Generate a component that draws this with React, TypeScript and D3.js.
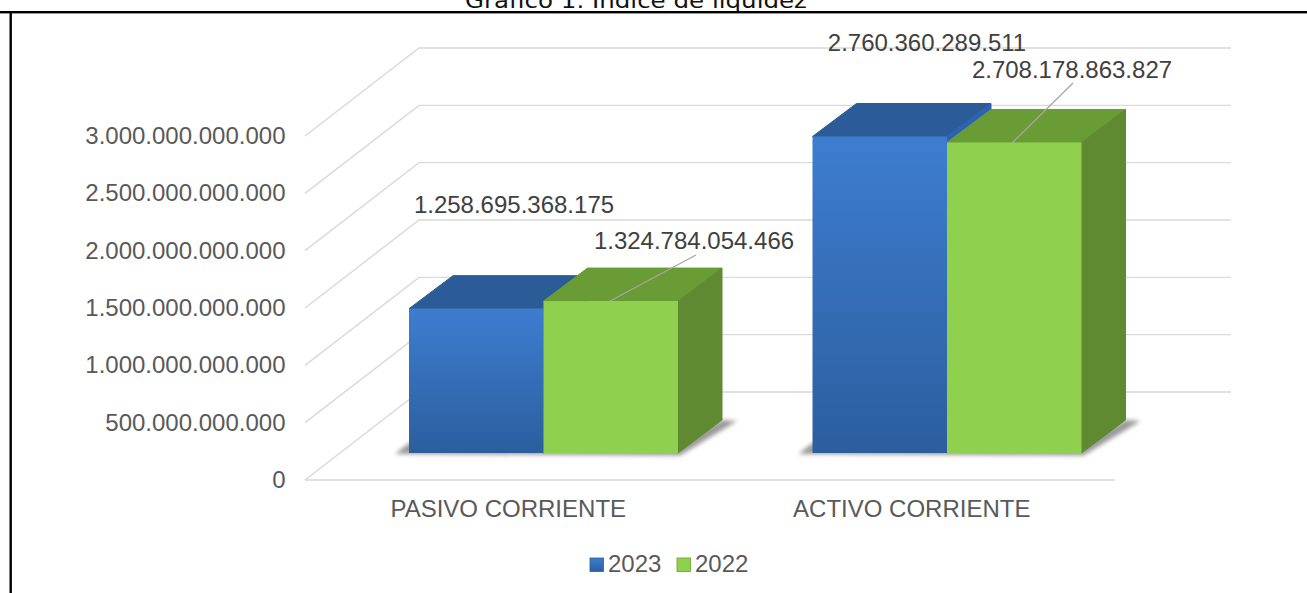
import { useEffect, useRef } from "react";
import * as d3 from "d3";

const categories = ["PASIVO CORRIENTE", "ACTIVO CORRIENTE"];
const seriesNames = ["2023", "2022"];
const values2023 = [1258695368175, 2760360289511];
const values2022 = [1324784054466, 2708178863827];
const yTicks = [0, 500000000000, 1000000000000, 1500000000000, 2000000000000, 2500000000000, 3000000000000];

const W = 1307, H = 593;
const FLOOR = { dx: 114, dy: -88 }; // depth of the side wall
const BASE = { dx: 36.75, dy: -27 }; // bar front edge, pushed back from the floor front
const DEPTH = { dx: 44, dy: -33 }; // bar depth
const FONT = "'Liberation Sans', Arial, sans-serif";
const FS = 24;
const TEXT = "#595959";

const COLORS = [
  { top: "#2b5c98", side: "#2c62b4", hi: "#3d7dd0", lo: "#2c5e9e" },
  { top: "#6a9c35", side: "#5f8a31", hi: "#8fd14f", lo: "#8fd14f" },
];

const fmt = d3.formatLocale({ decimal: ",", thousands: ".", grouping: [3], currency: ["", ""] }).format(",d");

export default function App() {
  const ref = useRef<SVGSVGElement>(null);

  useEffect(() => {
    const el = ref.current;
    if (!el) return;
    const svg = d3.select(el).attr("viewBox", `0 0 ${W} ${H}`).attr("width", W).attr("height", H);
    svg.selectAll("*").remove();

    const series = [values2023, values2022];
    const x = d3.scaleBand<string>().domain(categories).range([305, 1112]);
    const inner = d3.scaleBand<string>().domain(seriesNames).range([-134.5, 134.5]);
    const y = d3.scaleLinear().domain([0, 3000000000000]).range([480, 136]);
    const cx = (c: string) => (x(c) ?? 0) + x.bandwidth() / 2;

    const defs = svg.append("defs");
    COLORS.forEach((c, i) => {
      const g = defs.append("linearGradient").attr("id", `front${i}`).attr("x1", 0).attr("y1", 0).attr("x2", 0).attr("y2", 1);
      g.append("stop").attr("offset", "0%").attr("stop-color", c.hi);
      g.append("stop").attr("offset", "100%").attr("stop-color", c.lo);
    });
    defs.append("filter").attr("id", "soft").attr("x", "-10%").attr("y", "-30%").attr("width", "120%").attr("height", "160%")
      .append("feGaussianBlur").attr("stdDeviation", 2);

    // page frame + clipped caption
    svg.append("text").attr("x", 465).attr("y", 7.5).attr("fill", "#111").attr("font-size", 21.5)
      .attr("font-family", "'DejaVu Sans', sans-serif").attr("textLength", 342).attr("lengthAdjust", "spacingAndGlyphs")
      .text("Gráfico 1. Índice de liquidez");
    svg.append("rect").attr("x", 0).attr("y", 11).attr("width", W).attr("height", 2.4).attr("fill", "#000");
    svg.append("rect").attr("x", 9.5).attr("y", 11).attr("width", 2.4).attr("height", H - 11).attr("fill", "#000");

    // walls
    const grid = svg.append("g").attr("fill", "none").attr("stroke", "#d9d9d9").attr("stroke-width", 1.4);
    yTicks.forEach((t) => {
      const back = y(t) + FLOOR.dy;
      grid.append("path").attr("d", d3.line()([[305, y(t)], [305 + FLOOR.dx, back], [1231, back]]));
    });
    grid.append("line").attr("x1", 305).attr("x2", 1115).attr("y1", y(0)).attr("y2", y(0));

    // floor shadows
    const shadow = svg.append("g").attr("fill", "#9a9a9a").attr("filter", "url(#soft)");
    categories.forEach((c) => {
      const x0 = cx(c) + BASE.dx - 134.5, x1 = cx(c) + BASE.dx + 134.5, b = y(0) + BASE.dy;
      shadow.append("polygon").attr("points", [
        [x0 - 14, b + 1], [x1 + 2, b + 2.5], [x1 + DEPTH.dx + 15, b + DEPTH.dy + 1],
        [x1 + DEPTH.dx, b + DEPTH.dy], [x1, b - 10], [x0, b - 10],
      ].join(" "));
    });

    // bars, back to front so the green one covers the blue side
    const bars = svg.append("g");
    categories.forEach((c, ci) => {
      seriesNames.forEach((s, si) => {
        const col = COLORS[si];
        const x0 = cx(c) + BASE.dx + (inner(s) ?? 0), x1 = x0 + inner.bandwidth();
        const yt = y(series[si][ci]) + BASE.dy, yb = y(0) + BASE.dy;
        const xr = x1 + DEPTH.dx, up = DEPTH.dy;
        const poly = (pts: number[][], fill: string) =>
          bars.append("polygon").attr("points", pts.join(" ")).attr("fill", fill).attr("stroke", fill).attr("stroke-width", 1).attr("stroke-linejoin", "round");
        poly([[x0, yt], [x0 + DEPTH.dx, yt + up], [xr, yt + up], [x1, yt]], col.top);
        poly([[x1, yt], [xr, yt + up], [xr, yb + up], [x1, yb]], col.side);
        bars.append("rect").attr("x", x0).attr("y", yt).attr("width", x1 - x0).attr("height", yb - yt).attr("fill", `url(#front${si})`);
      });
    });

    // y axis
    const axis = svg.append("g").attr("font-family", FONT).attr("font-size", FS).attr("fill", TEXT);
    yTicks.forEach((t) => {
      axis.append("text").attr("x", 285.5).attr("y", y(t) + 8).attr("text-anchor", "end").text(fmt(t));
    });
    categories.forEach((c) => {
      svg.append("text").attr("x", cx(c) + 1.5).attr("y", 516.5).attr("text-anchor", "middle").attr("font-family", FONT)
        .attr("font-size", FS).attr("fill", TEXT).text(c);
    });

    // data labels, moved by hand in the original
    const labelSpots = [
      [[514, 213], [694, 249]],
      [[927, 51], [1072, 78]],
    ];
    const leaders = [
      [null, [[696, 255], [610, 301]]],
      [null, [[1073, 83], [1012, 143]]],
    ];
    categories.forEach((_c, ci) => {
      seriesNames.forEach((_s, si) => {
        const line = leaders[ci][si];
        if (line) svg.append("path").attr("d", d3.line()(line as [number, number][])).attr("stroke", "#a6a6a6").attr("stroke-width", 1.3).attr("fill", "none");
        const [lx, ly] = labelSpots[ci][si];
        svg.append("text").attr("x", lx).attr("y", ly).attr("text-anchor", "middle").attr("font-family", FONT)
          .attr("font-size", FS).attr("fill", "#404040").text(fmt(series[si][ci]));
      });
    });

    // legend
    const lx = d3.scalePoint<string>().domain(seriesNames).range([590, 677]);
    seriesNames.forEach((s, i) => {
      const px = lx(s) ?? 0;
      svg.append("rect").attr("x", px).attr("y", 558).attr("width", 13.5).attr("height", 13.5).attr("fill", `url(#front${i})`)
        .attr("stroke", COLORS[i].top).attr("stroke-width", 0.8);
      svg.append("text").attr("x", px + 18).attr("y", 571.5).attr("font-family", FONT).attr("font-size", FS).attr("fill", TEXT).text(s);
    });
  }, []);

  return <svg ref={ref} role="img" aria-label="Gráfico 1. Índice de liquidez" style={{ position: "absolute", left: 0, top: 0, background: "#fff" }} />;
}
